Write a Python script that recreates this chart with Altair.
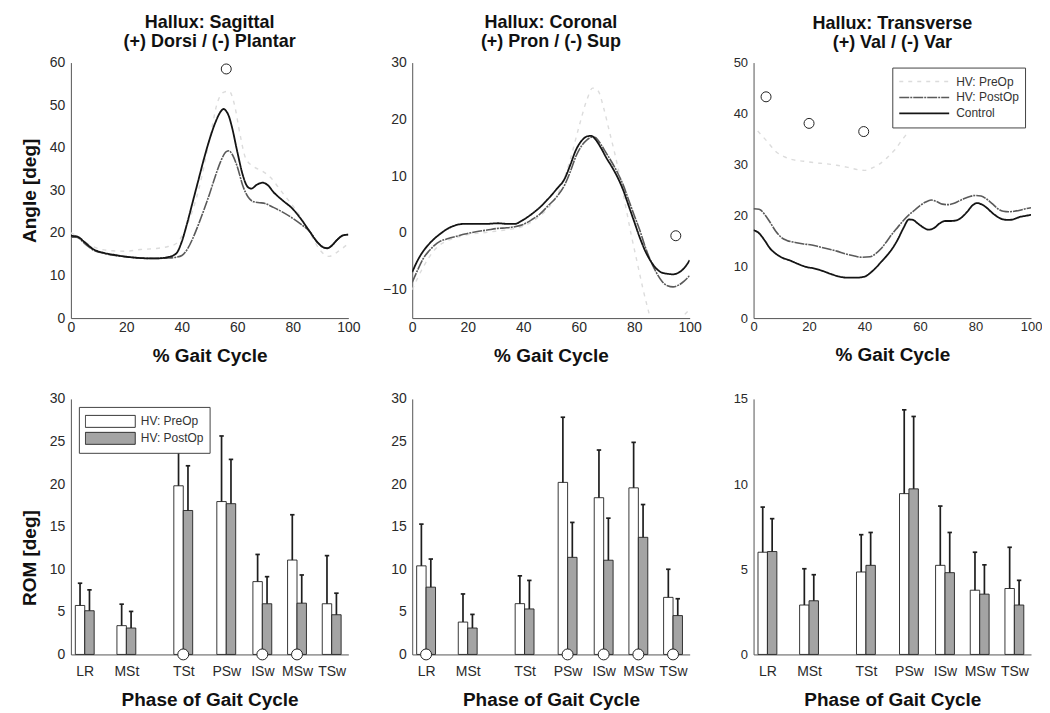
import altair as alt
import pandas as pd

FONT = "Liberation Sans"

# ---------------- curve x-axis ticks ----------------
gait_ticks = [0, 20, 40, 60, 80, 100]

# ---------------- Sagittal curves ----------------
sag_control_x = [0, 2, 5, 8, 12, 16, 20, 25, 30, 35, 38, 40, 42, 44, 46, 48, 50, 52, 54, 55, 56, 57, 58, 60, 62, 63.5, 65, 67, 69, 71, 73, 76, 80, 83, 86, 89, 91, 92.5, 94, 96, 98, 100]
sag_control_y = [19.3, 19.2, 17.8, 16.2, 15.3, 14.8, 14.4, 14.1, 14.0, 14.3, 15.2, 18, 22.5, 27.5, 32.5, 37.5, 42, 45.8, 48.5, 49.1, 48.6, 47.3, 45, 39, 33.5, 31, 30.4, 31.3, 31.8, 31.2, 29.6, 27.8, 25.6, 23.2, 20.4, 17.7, 16.6, 16.4, 17, 18.4, 19.4, 19.6]
sag_post_x = [0, 2, 5, 8, 12, 16, 20, 25, 30, 35, 38, 40, 42, 44, 46, 48, 50, 52, 54, 56, 57, 58, 60, 62, 64, 66, 68, 70, 73, 76, 80, 83, 86, 89, 91, 92.5, 94, 96, 98, 100]
sag_post_y = [19.0, 19.0, 17.5, 16.0, 15.2, 14.7, 14.4, 14.1, 14.0, 14.1, 14.3, 14.7, 16.2, 18.8, 22, 25.5, 29.2, 33.2, 36.8, 39.1, 39.3, 38.6, 35.5, 31, 28.3, 27.3, 27.1, 26.9, 26.0, 25.0, 23.4, 22.0, 20.4, 17.7, 16.6, 16.4, 17.0, 18.4, 19.4, 19.6]
sag_pre_x = [0, 3, 6, 10, 15, 20, 25, 30, 35, 38, 42, 46, 50, 53, 55, 57, 59, 61, 63, 66, 69, 72, 75, 78, 81, 84, 87, 90, 93, 96, 100]
sag_pre_y = [20, 19, 17.5, 16.3, 15.8, 15.7, 16.1, 16.3, 16.8, 17.5, 22, 30, 42, 51, 53, 53.3, 50, 43, 37.5, 35.5, 34.5, 33, 30.5, 28, 25.5, 22.5, 19, 15.8, 14.5, 15.5, 17.5]
sag_sig_x = [56]
sag_sig_y = [58.5]

# ---------------- Coronal curves ----------------
cor_control_x = [0, 2, 4, 6, 8, 10, 13, 16, 19, 23, 27, 31, 34, 37, 40, 43, 46, 49, 52, 55, 57, 59, 61, 63, 64.5, 66, 68, 70, 72, 74, 76, 78, 80, 82, 84, 86, 88, 90, 92, 94, 96, 98, 100]
cor_control_y = [-6.9, -4.8, -3.2, -2.0, -1.0, -0.2, 0.8, 1.4, 1.6, 1.6, 1.6, 1.7, 1.6, 1.6, 2.3, 3.3, 4.5, 6.0, 7.7, 9.6, 12.0, 14.6, 16.2, 17.0, 17.1, 16.5, 15.0, 13.2, 11.6, 9.8, 7.6, 4.8, 2.0, -0.8, -3.2, -5.0, -6.3, -7.0, -7.2, -7.3, -7.0, -6.2, -4.8]
cor_post_x = [0, 2, 4, 6, 8, 10, 13, 16, 19, 23, 27, 31, 34, 37, 40, 43, 46, 49, 52, 55, 57, 59, 61, 63, 65, 66, 68, 70, 72, 74, 76, 78, 80, 82, 84, 86, 88, 90, 92, 94, 96, 98, 100]
cor_post_y = [-8.7, -6.5, -4.5, -3.2, -2.2, -1.5, -1.0, -0.6, -0.2, 0.2, 0.5, 0.8, 0.9, 1.1, 1.5, 2.3, 3.3, 4.8, 6.3, 8.5, 10.8, 13.5, 15.3, 16.4, 16.9, 16.8, 15.6, 14.0, 12.4, 10.6, 8.5, 5.8, 3.1, 0.5, -2.5, -5.0, -7.0, -8.5, -9.3, -9.5, -9.2, -8.5, -7.5]
cor_pre_x = [0, 4, 8, 12, 16, 20, 25, 30, 35, 40, 45, 50, 54, 57, 60, 63, 65, 67, 69, 71, 73, 75, 77, 79, 81, 83, 85, 87, 90, 93, 96, 98, 100]
cor_pre_y = [-10, -6, -3, -1.5, -0.8, -0.3, 0, 0.3, 0.6, 1.2, 2.6, 5, 8.5, 13, 18.5, 23.5, 25.5, 25, 22, 18, 14, 9.5, 4.5, -0.5, -5, -9.5, -13.5, -17, -19, -18.5, -16, -14.5, -13.5]
cor_sig_x = [95]
cor_sig_y = [-0.5]

# ---------------- Transverse curves ----------------
tra_control_x = [0, 2, 4, 6, 8, 10, 13, 16, 19, 22, 25, 28, 31, 34, 37, 40, 42, 44, 46, 48, 50, 52, 54, 56, 57.5, 59, 61, 63, 65, 67, 69, 71, 73, 75, 77, 79, 80.5, 82, 84, 86, 88, 90, 92, 94, 96, 98, 100]
tra_control_y = [17.2, 16.6, 15.2, 13.6, 12.6, 11.9, 11.3, 10.6, 10.0, 9.7, 9.2, 8.6, 8.1, 7.9, 7.9, 8.1, 8.8, 9.8, 11.0, 12.2, 13.6, 15.4, 17.6, 19.3, 19.2, 18.6, 17.8, 17.3, 17.6, 18.5, 19.0, 19.0, 19.1, 19.7, 20.8, 22.1, 22.5, 22.3, 21.6, 20.6, 19.8, 19.3, 19.2, 19.4, 19.8, 20.0, 20.2]
tra_post_x = [0, 2, 4, 6, 8, 10, 12, 15, 18, 21, 24, 27, 30, 33, 36, 39, 42, 44, 46, 48, 50, 52, 54, 56, 58, 60, 62, 64, 66, 68, 70, 72, 74, 76, 78, 80, 82, 84, 86, 88, 90, 92, 94, 96, 98, 100]
tra_post_y = [21.4, 21.3, 20.3, 18.7, 17.0, 15.8, 15.2, 14.8, 14.5, 14.3, 13.9, 13.5, 13.1, 12.6, 12.2, 11.9, 12.0, 12.6, 13.6, 15.0, 16.5, 17.8, 19.1, 20.2, 21.1, 22.0, 22.7, 23.1, 22.8, 22.3, 22.2, 22.4, 22.9, 23.4, 23.8, 24.0, 23.9, 23.3, 22.4, 21.4, 20.9, 20.8, 20.9, 21.1, 21.4, 21.6]
tra_pre_x = [1.5, 5, 8, 11, 14, 18, 22, 26, 30, 34, 38, 40, 42, 45, 48, 51, 54, 56]
tra_pre_y = [36.6, 34.5, 32.6, 31.6, 31.0, 30.7, 30.4, 30.2, 29.9, 29.5, 29.0, 28.9, 29.2, 30.0, 31.3, 33.0, 35.2, 36.5]
tra_sig_x = [4.5, 20, 39.7]
tra_sig_y = [43.3, 38.1, 36.5]

# ---------------- ROM bars ----------------
phases = ["LR", "MSt", "TSt", "PSw", "ISw", "MSw", "TSw"]
phase_pos = [5, 20, 40.5, 56, 69, 81.5, 94]

sag_pre_mean = [5.75, 3.38, 19.8, 17.95, 8.55, 11.08, 5.95]
sag_pre_sd = [2.61, 2.52, 6.7, 7.7, 3.19, 5.32, 5.65]
sag_post_mean = [5.13, 3.1, 16.9, 17.7, 5.95, 6.02, 4.66]
sag_post_sd = [2.45, 1.95, 5.25, 5.2, 3.18, 3.31, 2.53]
sag_sig_phases = ["TSt", "ISw", "MSw"]

cor_pre_mean = [10.4, 3.8, 5.96, 20.2, 18.4, 19.56, 6.7]
cor_pre_sd = [4.9, 3.3, 3.27, 7.65, 5.6, 5.34, 3.3]
cor_post_mean = [7.9, 3.1, 5.34, 11.4, 11.06, 13.75, 4.56]
cor_post_sd = [3.3, 1.6, 3.35, 4.1, 4.94, 3.85, 1.98]
cor_sig_phases = ["LR", "PSw", "ISw", "MSw", "TSw"]

tra_pre_mean = [6.0, 2.9, 4.84, 9.44, 5.23, 3.77, 3.87]
tra_pre_sd = [2.65, 2.13, 2.19, 4.92, 3.48, 2.23, 2.42]
tra_post_mean = [6.04, 3.15, 5.23, 9.72, 4.8, 3.54, 2.9]
tra_post_sd = [1.93, 1.53, 1.93, 4.25, 2.36, 1.72, 1.45]
tra_sig_phases = []

series_names = ["HV: PreOp", "HV: PostOp", "Control"]
series_colors = ["#dcdcdc", "#5a5a5a", "#141414"]
series_dash = [[4, 5], [10, 1, 2, 1], [1, 0]]
series_widths = [1.4, 1.8, 1.9]

group_names = ["HV: PreOp", "HV: PostOp"]
group_fill = ["#ffffff", "#a4a4a4"]

W = 278
H = 256
BAR_W = 3.4
CAP = 0.8


def line_panel(title, curves, ydom, yvals, sx, sy, ytitle, legend, label_size):
    rows = []
    for name, xs, ys in curves:
        for a, b in zip(xs, ys):
            rows.append({"pct": a, "angle": b, "series": name})
    df = pd.DataFrame(rows)
    xaxis = alt.Axis(values=gait_ticks, title="% Gait Cycle", labelFlush=False,
                     labelOverlap=False, labelPadding=2, titlePadding=13,
                     labelFontSize=label_size)
    yaxis = alt.Axis(values=yvals, title=ytitle, labelPadding=6, titlePadding=10,
                     labelFontSize=label_size)
    xs = alt.Scale(domain=[0, 100], nice=False, zero=False)
    ys = alt.Scale(domain=ydom, nice=False, zero=False)
    lines = alt.Chart(df).mark_line(clip=True, interpolate="monotone").encode(
        x=alt.X("pct:Q", scale=xs, axis=xaxis),
        y=alt.Y("angle:Q", scale=ys, axis=yaxis),
        color=alt.Color("series:N", scale=alt.Scale(domain=series_names, range=series_colors),
                        legend=legend, sort=series_names),
        strokeDash=alt.StrokeDash("series:N", scale=alt.Scale(domain=series_names, range=series_dash),
                                  legend=legend, sort=series_names),
        strokeWidth=alt.StrokeWidth("series:N", scale=alt.Scale(domain=series_names, range=series_widths),
                                    legend=None),
    )
    sig = alt.Chart(pd.DataFrame({"pct": sx, "angle": sy})).mark_point(
        shape="circle", size=100, filled=False, stroke="#222222", strokeWidth=1, opacity=1
    ).encode(
        x=alt.X("pct:Q", scale=xs, axis=xaxis),
        y=alt.Y("angle:Q", scale=ys, axis=yaxis),
    )
    return alt.layer(lines, sig).properties(width=W, height=H, title=alt.TitleParams(text=title))


label_expr = " : ".join("datum.value == %s ? '%s'" % (p, n) for p, n in zip(phase_pos, phases)) + " : ''"


def bar_panel(pre_m, pre_s, post_m, post_s, sig_ph, ydom, yvals, ytitle, legend, label_size, title_y):
    rows = []
    for i, ph in enumerate(phases):
        rows.append({"phase": ph, "pos": phase_pos[i], "group": group_names[0], "side": -1,
                     "mean": pre_m[i], "sd": pre_s[i]})
        rows.append({"phase": ph, "pos": phase_pos[i], "group": group_names[1], "side": 1,
                     "mean": post_m[i], "sd": post_s[i]})
    df = pd.DataFrame(rows)
    xaxis = alt.Axis(values=phase_pos, labelExpr=label_expr, title="Phase of Gait Cycle",
                     labelFlush=False, labelOverlap=False, labelPadding=10, titlePadding=12,
                     labelFontSize=14)
    ykw = dict(values=yvals, title=ytitle, labelPadding=6, titlePadding=10, labelFontSize=label_size)
    if title_y is not None:
        ykw["titleY"] = title_y
    yaxis = alt.Axis(**ykw)
    xs = alt.Scale(domain=[0, 100], nice=False, zero=False)
    ys = alt.Scale(domain=ydom, nice=False)
    base = alt.Chart(df).transform_calculate(
        x0="datum.pos + (datum.side < 0 ? -%s : 0)" % BAR_W,
        x1="datum.pos + (datum.side < 0 ? 0 : %s)" % BAR_W,
        xc="datum.pos + datum.side * %s" % (BAR_W / 2),
        c0="datum.pos + datum.side * %s - %s" % (BAR_W / 2, CAP),
        c1="datum.pos + datum.side * %s + %s" % (BAR_W / 2, CAP),
        top="datum.mean + datum.sd",
        zero="0",
    )
    bars = base.mark_bar(stroke="#222222", strokeWidth=0.9).encode(
        x=alt.X("x0:Q", scale=xs, axis=xaxis),
        x2="x1:Q",
        y=alt.Y("mean:Q", scale=ys, axis=yaxis, stack=None),
        y2="zero:Q",
        fill=alt.Fill("group:N", scale=alt.Scale(domain=group_names, range=group_fill),
                      legend=legend, sort=group_names),
    )
    err = base.mark_rule(color="#1e1e1e", strokeWidth=1.7).encode(
        x=alt.X("xc:Q", scale=xs, axis=xaxis),
        y=alt.Y("mean:Q", scale=ys, axis=yaxis),
        y2="top:Q",
    )
    cap = base.mark_rule(color="#1e1e1e", strokeWidth=1.7).encode(
        x=alt.X("c0:Q", scale=xs, axis=xaxis),
        x2="c1:Q",
        y=alt.Y("top:Q", scale=ys, axis=yaxis),
    )
    layers = [bars, err, cap]
    sig_pos = [phase_pos[phases.index(p)] for p in sig_ph]
    if sig_pos:
        sig = alt.Chart(pd.DataFrame({"pos": sig_pos, "base": [0] * len(sig_pos)})).mark_point(
            shape="circle", size=120, filled=True, fill="white", stroke="#222222",
            strokeWidth=1, opacity=1
        ).encode(
            x=alt.X("pos:Q", scale=xs, axis=xaxis),
            y=alt.Y("base:Q", scale=ys, axis=yaxis),
        )
        layers.append(sig)
    return alt.layer(*layers).properties(width=W, height=H)


line_legend = alt.Legend(
    title=None, orient="none", legendX=139, legendY=5, direction="vertical",
    symbolType="stroke", symbolSize=2500, symbolStrokeWidth=1.6, clipHeight=16,
    labelFont=FONT, labelFontSize=12, labelColor="#333333", labelOffset=6,
    padding=6, strokeColor="#444444", fillColor="white", rowPadding=0,
)
bar_legend = alt.Legend(
    title=None, orient="none", legendX=8, legendY=8, direction="vertical",
    symbolType="M-1,-0.24H1V0.24H-1Z", symbolSize=2500, symbolStrokeColor="#222222",
    symbolStrokeWidth=0.9, clipHeight=17, labelFont=FONT, labelFontSize=12,
    labelColor="#333333", labelOffset=5, padding=6, strokeColor="#444444",
    fillColor="white", rowPadding=0,
)

p1 = line_panel(["Hallux: Sagittal", "(+) Dorsi / (-) Plantar"],
                [("HV: PreOp", sag_pre_x, sag_pre_y), ("HV: PostOp", sag_post_x, sag_post_y),
                 ("Control", sag_control_x, sag_control_y)],
                [0, 60], [0, 10, 20, 30, 40, 50, 60], sag_sig_x, sag_sig_y, "Angle [deg]", None, 14)
p2 = line_panel(["Hallux: Coronal", "(+) Pron / (-) Sup"],
                [("HV: PreOp", cor_pre_x, cor_pre_y), ("HV: PostOp", cor_post_x, cor_post_y),
                 ("Control", cor_control_x, cor_control_y)],
                [-15, 30], [-10, 0, 10, 20, 30], cor_sig_x, cor_sig_y, None, None, 14)
p3 = line_panel(["Hallux: Transverse", "(+) Val / (-) Var"],
                [("HV: PreOp", tra_pre_x, tra_pre_y), ("HV: PostOp", tra_post_x, tra_post_y),
                 ("Control", tra_control_x, tra_control_y)],
                [0, 50], [0, 10, 20, 30, 40, 50], tra_sig_x, tra_sig_y, None, line_legend, 13)

b1 = bar_panel(sag_pre_mean, sag_pre_sd, sag_post_mean, sag_post_sd, sag_sig_phases,
               [0, 30], [0, 5, 10, 15, 20, 25, 30], "ROM [deg]", bar_legend, 14, H / 2 + 31)
b2 = bar_panel(cor_pre_mean, cor_pre_sd, cor_post_mean, cor_post_sd, cor_sig_phases,
               [0, 30], [0, 5, 10, 15, 20, 25, 30], None, None, 14, None)
b3 = bar_panel(tra_pre_mean, tra_pre_sd, tra_post_mean, tra_post_sd, tra_sig_phases,
               [0, 15], [0, 5, 10, 15], None, None, 13, None)

chart = alt.concat(
    p1, p2, p3, b1, b2, b3, columns=3, spacing={"row": 81, "column": 64}, bounds="flush"
).resolve_scale(
    color="independent", strokeDash="independent", strokeWidth="independent",
    fill="independent", x="independent", y="independent"
).resolve_legend(
    color="independent", strokeDash="independent", fill="independent"
).configure_view(
    stroke=None
).configure_axis(
    labelFont=FONT, labelColor="#2a2a2a", titleFont=FONT, titleFontSize=19,
    titleFontWeight="bold", titleColor="#111111", domainColor="#555555",
    domainWidth=1, ticks=False, grid=False,
).configure_title(
    font=FONT, fontSize=18, fontWeight="bold", color="#111111", offset=5,
    frame="group", lineHeight=19, anchor="middle",
).properties(
    padding={"left": 12, "top": 5, "right": 0, "bottom": 0}
)

chart.save("out.html", embed_options={"renderer": "svg", "actions": False})
